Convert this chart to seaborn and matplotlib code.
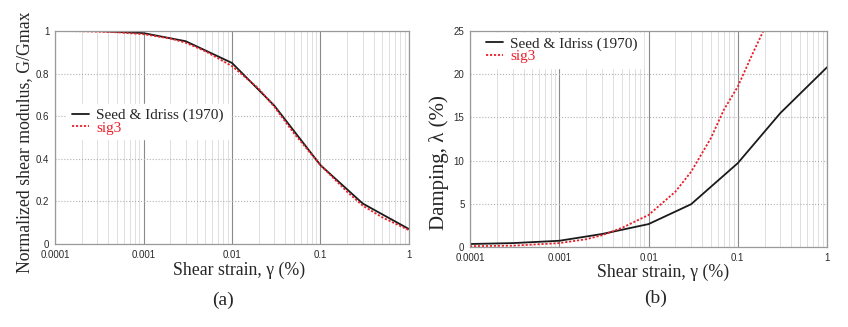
import numpy as np
import pandas as pd
import matplotlib
matplotlib.use("Agg")
import matplotlib.pyplot as plt
from matplotlib.ticker import LogLocator, FixedLocator, FixedFormatter, NullFormatter
import seaborn as sns

# -------------------------
# Data
# -------------------------
strain_si = [0.0001, 0.0003, 0.001, 0.003, 0.01, 0.03, 0.1, 0.3, 1.0]
g_si = [1.0, 1.0, 0.99, 0.952, 0.85, 0.65, 0.37, 0.19, 0.07]
damp_si = [0.35, 0.45, 0.72, 1.5, 2.65, 4.95, 9.7, 15.5, 20.8]

strain_g_sig3 = [0.0001, 0.0002, 0.0005, 0.001, 0.002, 0.003, 0.005, 0.01,
                 0.02, 0.03, 0.05, 0.1, 0.2, 0.3, 0.5, 1.0]
g_sig3 = [1.0, 0.999, 0.994, 0.985, 0.965, 0.945, 0.905, 0.835,
          0.73, 0.645, 0.52, 0.37, 0.245, 0.18, 0.125, 0.065]

strain_d_sig3 = [0.0001, 0.0003, 0.001, 0.002, 0.003, 0.005, 0.01, 0.02,
                 0.03, 0.05, 0.07, 0.1, 0.15, 0.2]
damp_sig3 = [0.1, 0.15, 0.45, 0.9, 1.35, 2.2, 3.7, 6.4,
             8.7, 12.6, 15.9, 18.55, 22.6, 25.3]

x_ticks = [0.0001, 0.001, 0.01, 0.1, 1]
x_labels = ["0.0001", "0.001", "0.01", "0.1", "1"]
g_ticks = [0, 0.2, 0.4, 0.6, 0.8, 1]
g_labels = ["0", "0.2", "0.4", "0.6", "0.8", "1"]
d_ticks = [0, 5, 10, 15, 20, 25]
d_labels = ["0", "5", "10", "15", "20", "25"]

BLACK = "#1a1a1a"
RED = "#e8202a"

sns.set_style("white")
plt.rcParams["font.family"] = ["Liberation Serif", "DejaVu Serif"]

fig = plt.figure(figsize=(8.48, 3.27), dpi=100)
W, H = 848, 327
ax1 = fig.add_axes([55 / W, (H - 244) / H, 354 / W, 213 / H])
ax2 = fig.add_axes([470 / W, (H - 247) / H, 357 / W, 216 / H])


def style_axis(ax, yticks, ylabels, ylim):
    ax.set_xscale("log")
    ax.set_xlim(0.0001, 1)
    ax.set_ylim(*ylim)
    ax.xaxis.set_major_locator(FixedLocator(x_ticks))
    ax.xaxis.set_major_formatter(FixedFormatter(x_labels))
    ax.xaxis.set_minor_locator(LogLocator(base=10, subs=np.arange(2, 10)))
    ax.xaxis.set_minor_formatter(NullFormatter())
    ax.yaxis.set_major_locator(FixedLocator(yticks))
    ax.yaxis.set_major_formatter(FixedFormatter(ylabels))
    ax.grid(True, which="major", axis="x", color="#8a8a8a", lw=0.8)
    ax.grid(True, which="minor", axis="x", color="#dedede", lw=0.7)
    ax.grid(True, which="major", axis="y", color="#b0b0b0", lw=0.8, ls=":")
    ax.tick_params(length=0, labelsize=7, pad=4)
    for lab in ax.get_xticklabels() + ax.get_yticklabels():
        lab.set_family(["Liberation Sans", "DejaVu Sans"])
        lab.set_color("#2a2a2a")
    for s in ax.spines.values():
        s.set_color("#9a9a9a")
        s.set_linewidth(0.9)
    ax.set_axisbelow(True)


def add_legend(ax, anchor):
    leg = ax.legend(loc="upper left", bbox_to_anchor=anchor, fontsize=11,
                    frameon=True, framealpha=1, edgecolor="white",
                    fancybox=False, handlelength=1.1, handletextpad=0.5,
                    borderpad=0.3, borderaxespad=0, labelspacing=-0.08)
    leg.get_texts()[1].set_color(RED)
    return leg


# -------------------------
# (a) Normalized shear modulus
# -------------------------
sns.lineplot(x=strain_si, y=g_si, ax=ax1, color=BLACK, lw=1.3,
             label="Seed & Idriss (1970)")
sns.lineplot(x=strain_g_sig3, y=g_sig3, ax=ax1, color=RED, lw=1.3,
             ls=(0, (1.2, 1.0)), label="sig3")
style_axis(ax1, g_ticks, g_labels, (0, 1))
ax1.set_xlabel("Shear strain, γ (%)", fontsize=12.8)
ax1.set_ylabel("Normalized shear modulus, G/Gmax", fontsize=12.8)
ax1.xaxis.set_label_coords(0.52, -0.085)
ax1.yaxis.set_label_coords(-0.062, 0.477)
add_legend(ax1, (0.035, 0.659))

# -------------------------
# (b) Damping
# -------------------------
sns.lineplot(x=strain_si, y=damp_si, ax=ax2, color=BLACK, lw=1.3,
             label="Seed & Idriss (1970)")
sns.lineplot(x=strain_d_sig3, y=damp_sig3, ax=ax2, color=RED, lw=1.3,
             ls=(0, (1.2, 1.0)), label="sig3")
style_axis(ax2, d_ticks, d_labels, (0, 25))
ax2.set_xlabel("Shear strain, γ (%)", fontsize=12.8)
ax2.set_ylabel("Damping, λ (%)", fontsize=15)
ax2.xaxis.set_label_coords(0.54, -0.079)
ax2.yaxis.set_label_coords(-0.059, 0.39)
add_legend(ax2, (0.032, 0.993))

fig.text(223 / W, 1 - 300 / H, "(a)", ha="center", va="center", fontsize=14)
fig.text(656 / W, 1 - 298 / H, "(b)", ha="center", va="center", fontsize=14)

fig.savefig("out.png", dpi=100, facecolor="white")
plt.close(fig)
